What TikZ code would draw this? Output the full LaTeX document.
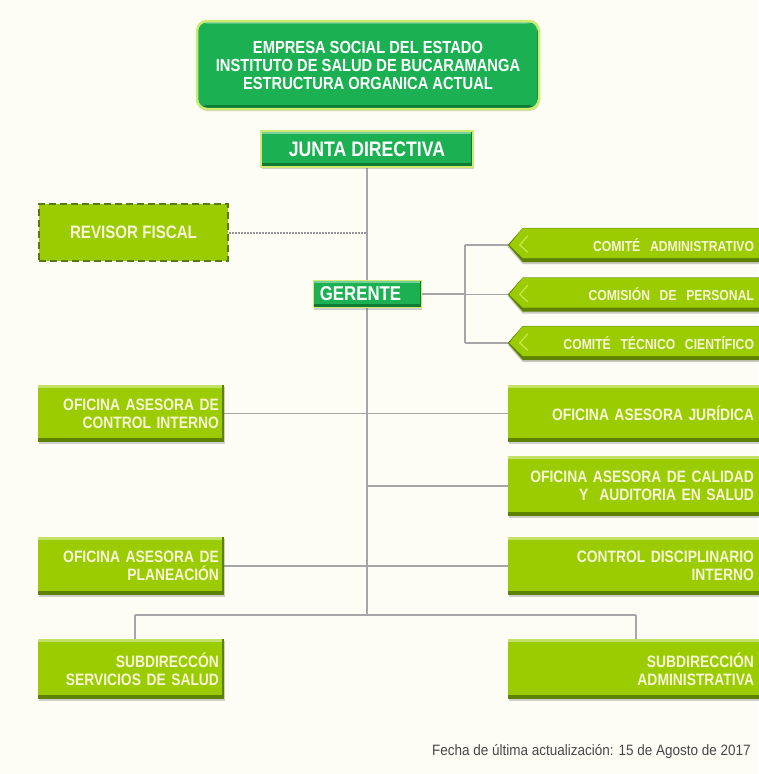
\documentclass[tikz,border=0pt]{standalone}
\usepackage{fontspec}
\setmainfont{Liberation Sans}
\newfontfamily\cond[FakeStretch=0.84]{Liberation Sans}
\newfontfamily\footf[FakeStretch=0.9]{Liberation Sans}
\usetikzlibrary{backgrounds,shadows}
\definecolor{bgc}{HTML}{FDFDF6}
\definecolor{grn}{HTML}{1BB152}
\definecolor{grndark}{HTML}{0E7A34}
\definecolor{glow}{HTML}{CDEB70}
\definecolor{lime}{HTML}{9BCC02}
\definecolor{limedark}{HTML}{5E8200}
\definecolor{limelight}{HTML}{C6E84C}
\definecolor{olive}{HTML}{587A12}
\definecolor{txtc}{HTML}{F6F6D6}
\definecolor{linec}{HTML}{A6A6A6}
\tikzset{
  bevel/.style={path picture={
      \fill[#1] ([yshift=4pt]path picture bounding box.south west) rectangle (path picture bounding box.south east);
      \fill[#1] ([xshift=-2pt]path picture bounding box.north east) rectangle (path picture bounding box.south east);
      \fill[white,opacity=0.4] (path picture bounding box.north west) rectangle ([yshift=-2.5pt,xshift=-2pt]path picture bounding box.north east);}},
  shad/.style={drop shadow={shadow xshift=0.5pt, shadow yshift=-2pt, opacity=0.25, fill=black!70}},
  lbox/.style={fill=lime, shad, bevel=limedark, inner sep=0pt, inner xsep=5pt, text width=176pt,
      minimum height=57pt, align=right, text=txtc, font=\cond\bfseries\fontsize{16.5}{18}\selectfont},
  rbox/.style={fill=lime, shad, bevel=limedark, inner sep=0pt, inner xsep=8pt, text width=238pt,
      minimum height=58pt, align=right, text=txtc, font=\cond\bfseries\fontsize{16.5}{18}\selectfont},
  cbox/.style={inner sep=0pt, inner xsep=8pt, text width=223pt, minimum height=34pt,
      align=right, text=txtc, font=\cond\bfseries\fontsize{14.5}{16}\selectfont},
  gbox/.style={fill=grn, bevel=grndark, draw=glow, line width=2.5pt, inner sep=0pt,
      align=center, text=white, font=\cond\bfseries},
  conn/.style={draw=linec, line width=1.8pt},
}
\begin{document}
\begin{tikzpicture}[x=1pt,y=-1pt]
\useasboundingbox (0,0) rectangle (758,774);

% title
\node[gbox, shad, rounded corners=10pt, minimum width=342pt, minimum height=88pt,
      font=\cond\bfseries\fontsize{17.5}{18}\selectfont] (title) at (368,65)
  {EMPRESA SOCIAL DEL ESTADO\\INSTITUTO DE SALUD DE BUCARAMANGA\\ESTRUCTURA ORGANICA ACTUAL};
% junta
\node[gbox, shad, minimum width=212pt, minimum height=36pt,
      font=\cond\bfseries\fontsize{21}{23}\selectfont] (junta) at (367,149) {JUNTA DIRECTIVA};
% revisor
\node[fill=lime, draw=olive, dashed, dash pattern=on 7pt off 4pt, line width=2pt,
      minimum width=189pt, minimum height=57pt, inner sep=0pt, text=txtc,
      font=\cond\bfseries\fontsize{18}{20}\selectfont] (rev) at (133.5,232.5) {REVISOR FISCAL};
% gerente
\node[fill=grn, shad, bevel=grndark, draw=glow, line width=1pt, minimum width=108pt, minimum height=27pt,
      inner sep=0pt, text=white, font=\cond\bfseries\fontsize{20}{22}\selectfont] (ger) at (367.5,294) {GERENTE\hspace*{14pt}};

% comites
\node[cbox] (c1) at (642.5,245) {COMITÉ\ \ ADMINISTRATIVO};
\node[cbox] (c2) at (642.5,294.5) {COMISIÓN\ \ DE\ \ PERSONAL};
\node[cbox] (c3) at (642.5,343) {COMITÉ\ \ TÉCNICO\ \ CIENTÍFICO};
\foreach \c in {c1,c2,c3}{
  \coordinate (\c tip) at ([xshift=-15pt]\c.west);
}

% left / right boxes
\node[lbox] (ci) at (131,413.5) {OFICINA ASESORA DE\\CONTROL INTERNO};
\node[rbox, minimum height=57pt] (jur) at (635,413.5) {OFICINA ASESORA JURÍDICA};
\node[rbox, minimum height=60pt] (cal) at (635,486) {OFICINA ASESORA DE CALIDAD\\Y\ \ AUDITORIA EN SALUD};
\node[lbox, minimum height=58pt] (pla) at (131,566) {OFICINA ASESORA DE\\PLANEACIÓN};
\node[rbox] (cdi) at (635,566) {CONTROL DISCIPLINARIO\\INTERNO};
\node[lbox, minimum height=60pt] (ss) at (131,669) {SUBDIRECCÓN\\SERVICIOS DE SALUD};
\node[rbox, minimum height=60pt] (sa) at (635,669) {SUBDIRECCIÓN\\ADMINISTRATIVA};

% footer
\node[anchor=east, inner sep=0pt, text=black!72, font=\footf\fontsize{15}{17}\selectfont] (foot) at (751,752)
  {Fecha de última actualización: 15 de Agosto de 2017};

\coordinate (bus) at (367,615);
\coordinate (bl) at (135,615);
\coordinate (br) at (636,615);
\coordinate (gbr) at (465,294);

\begin{scope}[on background layer]
  \fill[bgc] (0,0) rectangle (758,774);
  \draw[conn] (junta.south) -- (bus);
  \draw[draw=black!42, line width=2pt, dash pattern=on 1.6pt off 1.4pt] (rev.east) -- (rev.east -| bus);
  \draw[conn] (ger.east) -- (gbr);
  \draw[conn] (c1tip -| gbr) -- (c3tip -| gbr);
  \foreach \c in {c1,c2,c3}{ \draw[conn] (\c tip -| gbr) -- (\c tip); }
  \draw[conn] (ci.east) -- (jur.west);
  \draw[conn] (cal.west -| bus) -- (cal.west);
  \draw[conn] (pla.east) -- (cdi.west);
  \draw[conn] (bl) -- (br);
  \draw[conn] (bl) -- (ss.north -| bl);
  \draw[conn] (br) -- (sa.north -| br);
  % comite shapes
  \foreach \c in {c1,c2,c3}{
    \fill[black,opacity=0.2] ([yshift=-2pt]\c.north east) -- ([yshift=-2pt]\c.north west) -- ([yshift=-2pt]\c tip) -- ([yshift=-2pt]\c.south west) -- ([yshift=-2pt]\c.south east) -- cycle;
    \fill[limedark] (\c.north east) -- (\c.north west) -- (\c tip) -- (\c.south west) -- (\c.south east) -- cycle;
    \fill[lime] ([yshift=-0.5pt]\c.north east) -- ([yshift=-0.5pt]\c.north west) -- ([xshift=1.5pt]\c tip) -- ([yshift=4pt]\c.south west) -- ([yshift=4pt]\c.south east) -- cycle;
    \fill[white,opacity=0.35] (\c.north east) -- (\c.north west) -- ([xshift=-1pt,yshift=1pt]\c.north west) -- ([yshift=2.5pt]\c.north west) -- ([yshift=2.5pt]\c.north east) -- cycle;
    \draw[limelight, line width=1.2pt] ([xshift=5pt,yshift=-8pt]\c.north west) -- ([xshift=-3pt]\c.west) -- ([xshift=5pt,yshift=10pt]\c.south west);
  }
\end{scope}
\end{tikzpicture}
\end{document}
